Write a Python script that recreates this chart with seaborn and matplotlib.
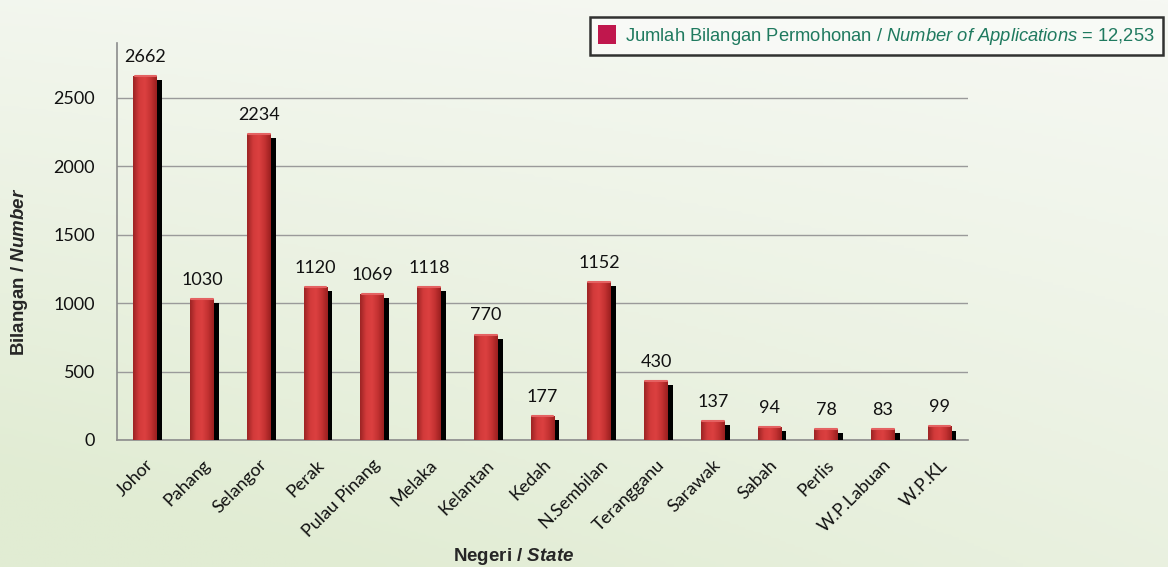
import numpy as np
import pandas as pd
import matplotlib
matplotlib.use("Agg")
import matplotlib.pyplot as plt
import matplotlib.patheffects as pe
from matplotlib.patches import Patch
from matplotlib.colors import LinearSegmentedColormap
import seaborn as sns

# data
states = ["Johor", "Pahang", "Selangor", "Perak", "Pulau Pinang", "Melaka", "Kelantan",
          "Kedah", "N.Sembilan", "Terangganu", "Sarawak", "Sabah", "Perlis",
          "W.P.Labuan", "W.P.KL"]
applications = [2662, 1030, 2234, 1120, 1069, 1118, 770, 177, 1152, 430, 137, 94, 78, 83, 99]
y_ticks = [0, 500, 1000, 1500, 2000, 2500]
legend_label = "Jumlah Bilangan Permohonan / $\\mathit{Number\\ of\\ Applications}$ = 12,253"

df = pd.DataFrame({"state": states, "count": applications})

sns.set_style("white")
plt.rcParams["font.family"] = ["Lato", "DejaVu Sans"]
plt.rcParams["mathtext.fontset"] = "custom"
plt.rcParams["mathtext.rm"] = "Liberation Sans"
plt.rcParams["mathtext.it"] = "Liberation Sans:italic"
plt.rcParams["mathtext.bf"] = "Liberation Sans:bold"
plt.rcParams["mathtext.bfit"] = "Liberation Sans:bold:italic"

fig = plt.figure(figsize=(11.68, 5.67), dpi=100)

# soft green background
bg = fig.add_axes([0, 0, 1, 1], zorder=-10)
yy, xx = np.mgrid[0:1:200j, 0:1:400j]
shade = np.clip(0.6 * yy + 0.4 * (1 - xx) * yy + 0.15 * (1 - xx), 0, 1)
bg_cmap = LinearSegmentedColormap.from_list("bg", ["#f6f8f3", "#e1ecd3"])
bg.imshow(shade, cmap=bg_cmap, aspect="auto", extent=[0, 1, 0, 1], origin="upper")
bg.axis("off")

ax = fig.add_axes([0.1002, 0.224, 0.7286, 0.700])
ax.patch.set_alpha(0)

sns.barplot(data=df, x="state", y="count", color="#c62f2f", width=0.42,
            edgecolor="none", ax=ax, zorder=3)

bar_cmap = LinearSegmentedColormap.from_list(
    "bar", ["#9c2424", "#d23a3a", "#dc4040", "#c43232", "#9a2020"])
grad = np.linspace(0, 1, 64).reshape(1, -1)
for p in ax.patches:
    p.set_path_effects([pe.SimplePatchShadow(offset=(3.5, -3), shadow_rgbFace="black", alpha=1.0),
                        pe.Normal()])
    x0, y0 = p.get_x(), p.get_y()
    w, h = p.get_width(), p.get_height()
    im = ax.imshow(grad, cmap=bar_cmap, aspect="auto", extent=[x0, x0 + w, y0, y0 + h],
                   zorder=4, interpolation="bicubic")
    im.set_clip_path(p)
    # soft lighter rim at the top
    ax.plot([x0 + 0.02, x0 + w - 0.02], [y0 + h, y0 + h], color="#e46262", lw=1.5, zorder=5,
            solid_capstyle="round")

for i, v in enumerate(applications):
    ax.annotate(str(v), (i, v), xytext=(0, 8), textcoords="offset points",
                ha="center", va="bottom", fontsize=13, color="#111111")

ax.set_xlim(-0.5, len(states) - 0.5)
ax.set_ylim(0, 2900)
ax.set_yticks(y_ticks)
ax.set_yticklabels([str(t) for t in y_ticks], fontsize=13, color="#111111")
ax.yaxis.grid(True, color="#9a9a9a", lw=1)
ax.set_axisbelow(True)
ax.tick_params(axis="y", length=6, color="#8c8c8c", pad=10)

ax.set_xticks(range(len(states)))
ax.set_xticklabels(states, rotation=45, ha="right", rotation_mode="anchor",
                   fontsize=13, color="#111111")
ax.tick_params(axis="x", length=0, pad=12)
ax.set_xticks(np.arange(-0.5, len(states), 1.0), minor=True)
ax.tick_params(axis="x", which="minor", length=6, color="#8c8c8c")

for s in ["top", "right"]:
    ax.spines[s].set_visible(False)
for s in ["left", "bottom"]:
    ax.spines[s].set_color("#8c8c8c")
    ax.spines[s].set_linewidth(1.2)

ax.set_xlabel("")
ax.set_ylabel("")
fig.text(0.44, 0.019, "$\\mathbf{Negeri\\ /\\ }\\mathbfit{State}$", ha="center", va="center",
         fontsize=13.5)
fig.text(0.017, 0.52, "$\\mathbf{Bilangan\\ /\\ }\\mathbfit{Number}$", ha="center", va="center",
         rotation=90, fontsize=13.5)

leg = fig.legend(handles=[Patch(facecolor="#c0174d", edgecolor="none")], labels=[legend_label],
                 loc="upper right", bbox_to_anchor=(0.996, 0.97), borderaxespad=0,
                 frameon=True, fancybox=False,
                 handlelength=1.0, handleheight=1.2, handletextpad=0.5, borderpad=0.45,
                 prop={"family": "Liberation Sans", "size": 13.2})
leg.get_frame().set_edgecolor("black")
leg.get_frame().set_linewidth(1.8)
leg.get_frame().set_facecolor("#fafbf8")
for t in leg.get_texts():
    t.set_color("#1f7a5f")

fig.savefig("out.png", dpi=100)
